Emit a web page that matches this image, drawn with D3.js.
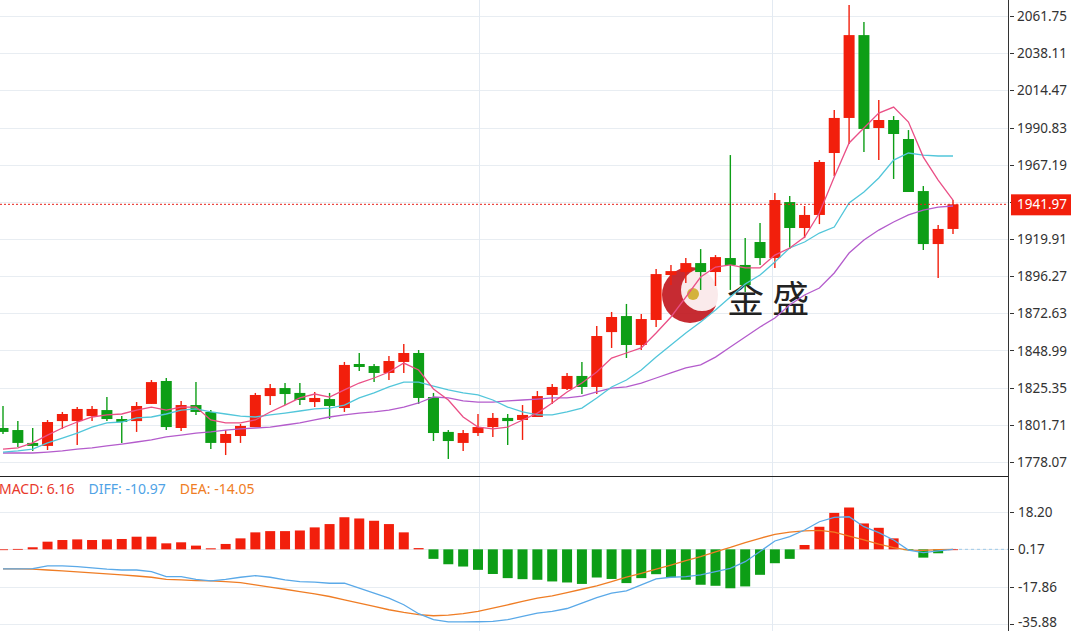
<!DOCTYPE html>
<html><head><meta charset="utf-8">
<script src="https://cdn.jsdelivr.net/npm/d3@7"></script>
<style>body{margin:0;background:#fff;overflow:hidden}svg{display:block;font-family:"Noto Sans","Open Sans",sans-serif}</style>
</head><body><svg id="c" width="1071" height="631"></svg>
<script>
const opens=[1799.7,1798.4,1790.2,1788.3,1804.1,1804.1,1807.3,1811.1,1805.4,1804.1,1815.0,1829.6,1799.7,1814.3,1809.9,1790.2,1794.6,1800.3,1820.0,1825.1,1822.0,1816.2,1818.1,1812.4,1840.4,1839.1,1834.7,1841.7,1847.4,1819.4,1797.2,1790.2,1796.5,1800.3,1806.1,1804.8,1806.7,1820.7,1824.5,1832.8,1825.8,1860.7,1870.9,1852.5,1868.4,1897.0,1898.9,1904.6,1898.9,1907.8,1903.4,1918.0,1907.8,1943.4,1926.9,1935.2,1974.6,1996.9,2049.6,1990.5,1995.6,1983.5,1950.4,1916.7,1926.3];
const closes=[1797.2,1790.2,1788.3,1803.5,1808.6,1811.8,1811.8,1805.4,1803.5,1813.7,1828.9,1800.3,1814.3,1809.9,1790.2,1795.9,1801.0,1820.7,1825.1,1821.3,1817.5,1818.8,1813.7,1839.8,1838.5,1834.7,1842.3,1847.4,1818.8,1796.5,1791.4,1796.5,1800.3,1806.1,1804.1,1808.0,1820.0,1825.8,1832.8,1825.8,1858.2,1870.3,1852.5,1869.0,1897.6,1899.5,1904.6,1898.9,1908.4,1903.4,1890.6,1907.8,1944.7,1926.9,1935.2,1968.9,1996.9,2049.6,1989.9,1995.6,1986.7,1949.8,1916.7,1926.3,1941.97];
const highs=[1813.7,1804.1,1799.7,1804.8,1809.9,1813.0,1813.7,1819.4,1807.3,1816.2,1830.2,1831.5,1816.9,1828.9,1811.1,1798.4,1802.2,1822.0,1827.7,1828.3,1828.3,1822.6,1822.0,1841.7,1847.4,1840.4,1845.5,1853.1,1849.3,1822.0,1798.4,1798.4,1808.6,1809.2,1808.6,1814.3,1823.2,1827.7,1834.7,1841.7,1864.6,1873.5,1878.6,1872.2,1900.8,1903.4,1907.8,1913.5,1909.7,1973.3,1920.5,1930.1,1949.2,1947.2,1940.9,1970.1,2001.9,2068.7,2057.9,2008.3,1998.1,1989.2,1953.6,1928.8,1944.7];
const lows=[1795.9,1787.6,1785.1,1785.7,1799.1,1788.9,1804.1,1804.1,1790.2,1797.2,1815.0,1798.4,1797.8,1808.0,1786.3,1782.5,1790.2,1800.3,1814.3,1814.3,1814.3,1813.0,1805.4,1809.9,1835.9,1828.9,1830.2,1834.7,1815.0,1791.4,1780.0,1785.1,1794.6,1794.0,1788.9,1792.1,1806.7,1815.0,1823.9,1821.3,1821.3,1850.6,1844.2,1849.3,1863.9,1890.6,1891.9,1887.5,1890.0,1887.5,1886.2,1903.4,1901.5,1913.5,1920.5,1929.4,1960.0,1980.3,1975.2,1970.1,1958.1,1949.8,1912.9,1895.1,1923.1];
const ma5=[1786.3,1787.0,1790.2,1795.2,1799.7,1803.5,1806.7,1808.0,1808.6,1811.1,1813.0,1811.1,1813.0,1813.0,1804.8,1802.9,1802.9,1804.8,1809.9,1814.3,1818.8,1821.3,1819.4,1823.9,1828.3,1831.5,1835.3,1841.0,1836.6,1824.5,1817.5,1806.7,1800.3,1799.1,1800.3,1804.8,1809.2,1815.6,1822.6,1828.3,1835.3,1844.2,1847.4,1850.6,1860.1,1870.3,1883.0,1895.7,1902.1,1903.4,1901.5,1901.5,1909.7,1914.2,1921.2,1936.4,1959.3,1981.0,1990.5,2000.0,2003.8,1994.3,1972.0,1957.4,1944.7];
const ma10=[1784.4,1785.1,1786.3,1790.2,1793.3,1796.5,1800.3,1802.9,1803.5,1806.1,1806.7,1808.6,1811.1,1811.8,1809.9,1808.6,1807.3,1806.7,1808.0,1809.2,1810.5,1811.8,1812.4,1814.3,1818.8,1822.0,1825.8,1828.9,1828.9,1826.4,1823.9,1822.0,1820.7,1817.5,1813.0,1809.9,1808.0,1808.0,1809.9,1812.4,1818.8,1825.8,1830.2,1836.6,1844.8,1852.5,1860.1,1867.1,1874.7,1883.0,1891.3,1897.0,1905.3,1914.2,1918.0,1923.7,1927.5,1942.8,1949.8,1958.7,1970.1,1974.6,1973.3,1972.7,1972.7];
const ma20=[1783.8,1783.8,1783.8,1784.4,1785.1,1786.3,1787.0,1788.3,1789.5,1790.8,1792.1,1794.0,1795.2,1796.5,1797.2,1798.4,1799.1,1799.7,1800.3,1801.6,1802.9,1804.8,1806.7,1808.0,1809.2,1809.9,1811.1,1813.0,1815.6,1819.4,1818.8,1816.9,1816.2,1816.2,1816.9,1817.5,1818.1,1818.8,1818.8,1820.0,1822.6,1825.1,1825.8,1828.3,1831.5,1834.7,1837.9,1839.8,1844.8,1851.2,1857.6,1863.9,1869.7,1877.9,1884.3,1888.7,1898.3,1911.0,1919.3,1925.6,1930.7,1935.2,1938.3,1940.2,1940.9];
const macdHist=[0,0.2,1.0,3.7,4.5,4.8,4.5,4.8,5.0,6.1,6.1,2.9,3.4,1.8,0.5,2.6,5.3,8.2,8.8,8.8,9.1,10.6,12.2,15.5,14.9,13.8,12.2,8.2,0.6,-4.6,-7.2,-8.3,-9.9,-11.9,-13.9,-14.4,-14.7,-15.5,-16.0,-16.7,-13.6,-14.3,-16.3,-13.9,-12.0,-13.5,-14.7,-17.1,-17.6,-18.8,-17.9,-12.3,-6.7,-4.6,2.1,10.9,17.6,20.2,12.5,10.4,5.3,-0.3,-4.0,-1.9,0];
const diff=[-9.3,-9.3,-9.1,-7.8,-7.8,-8.2,-8.8,-9.4,-9.8,-9.8,-10.6,-13.0,-13.0,-14.3,-15.1,-14.3,-13.3,-12.5,-13.3,-14.6,-15.4,-15.7,-16.2,-16.2,-18.6,-21.0,-23.4,-26.6,-30.9,-33.8,-34.9,-34.9,-34.8,-34.6,-33.8,-32.2,-30.6,-29.8,-28.4,-25.8,-23.1,-21.0,-19.9,-17.0,-14.1,-13.3,-13.0,-12.2,-10.6,-9.0,-5.8,-0.9,4.2,6.3,9.5,13.5,15.6,15.9,11.1,8.2,4.7,-0.2,-1.4,-0.6,0.17];
const dea=[-9.3,-9.3,-9.4,-9.8,-10.2,-10.7,-11.2,-11.7,-12.2,-12.7,-13.3,-14.3,-14.6,-14.9,-15.1,-15.4,-15.9,-17.0,-18.1,-19.1,-20.2,-21.3,-22.6,-24.2,-25.8,-27.4,-29.0,-30.3,-31.4,-31.9,-31.6,-30.9,-29.8,-28.2,-26.6,-25.0,-23.4,-22.3,-20.7,-19.1,-17.5,-15.4,-13.3,-11.4,-9.4,-7.4,-5.3,-3.4,-1.0,1.1,3.4,5.5,7.4,8.5,9.1,9.3,8.5,6.6,4.7,2.7,1.0,-0.2,-0.3,0.0,0.17];
const priceTicks=[2061.75,2038.11,2014.47,1990.83,1967.19,1943.55,1919.91,1896.27,1872.63,1848.99,1825.35,1801.71,1778.07];
const hiddenTick=1943.55;
const macdTicks=[18.20,0.17,-17.86,-35.88];
const lastPrice=1941.97;
const legend=[["MACD: 6.16","#e8392c"],["DIFF: -10.97","#4fa3e6"],["DEA: -14.05","#ef7d25"]];

const RED="#f21f0c",GREEN="#0d9e16";
const svg=d3.select("#c");
const x=d3.scaleLinear().domain([0,64]).range([3,953]);
const y=d3.scaleLinear().domain([1778.07,2061.75]).range([462,16]);
const xm=x;
const ym=d3.scaleLinear().domain([-35.88,18.20]).range([624,512]);
const AX=1008;

svg.append("g").selectAll("line").data(priceTicks).join("line")
 .attr("x1",0).attr("x2",AX).attr("y1",d=>Math.round(y(d))+.5).attr("y2",d=>Math.round(y(d))+.5).attr("stroke","#e8edf2");
svg.append("g").selectAll("line").data(macdTicks).join("line")
 .attr("x1",0).attr("x2",AX).attr("y1",d=>Math.round(ym(d))+.5).attr("y2",d=>Math.round(ym(d))+.5).attr("stroke","#e8edf2");
[[479,0,476],[772,0,476],[479,477,631],[772,477,631]].forEach(v=>svg.append("line").attr("x1",v[0]+.5).attr("x2",v[0]+.5).attr("y1",v[1]).attr("y2",v[2]).attr("stroke","#e3eaf2"));

const wm=svg.append("g");
wm.append("circle").attr("cx",690).attr("cy",295).attr("r",28).attr("fill","#c0141c").attr("opacity",.9);
wm.append("circle").attr("cx",702).attr("cy",290).attr("r",21).attr("fill","#fff").attr("opacity",.9);
wm.append("circle").attr("cx",693).attr("cy",294).attr("r",6).attr("fill","#d4b23c");
wm.append("text").attr("x",727).attr("y",313).attr("font-size",37).attr("fill","#222").attr("font-family","Noto Sans CJK SC").text("金 盛");

const idx=d3.range(opens.length);
const cg=svg.append("g");
cg.selectAll("line").data(idx).join("line")
 .attr("x1",i=>x(i)).attr("x2",i=>x(i)).attr("y1",i=>y(highs[i])).attr("y2",i=>y(lows[i]))
 .attr("stroke",i=>closes[i]>=opens[i]?RED:GREEN).attr("stroke-width",1.4);
cg.selectAll("rect").data(idx).join("rect")
 .attr("x",i=>x(i)-5.5).attr("width",11)
 .attr("y",i=>y(Math.max(opens[i],closes[i])))
 .attr("height",i=>Math.max(1.5,Math.abs(y(opens[i])-y(closes[i]))))
 .attr("fill",i=>closes[i]>=opens[i]?RED:GREEN);

const ln=(xs,ys)=>d3.line().x((d,i)=>xs(i)).y(d=>ys(d));
[[ma20,"#b45ccc"],[ma10,"#52c6da"],[ma5,"#ea4f86"]].forEach(([a,c])=>svg.append("path").attr("d",ln(x,y)(a)).attr("fill","none").attr("stroke",c).attr("stroke-width",1.3));

svg.append("line").attr("x1",0).attr("x2",AX).attr("y1",y(lastPrice)).attr("y2",y(lastPrice)).attr("stroke","#e8201a").attr("stroke-dasharray","2,2");

svg.append("line").attr("x1",0).attr("x2",AX).attr("y1",476.5).attr("y2",476.5).attr("stroke","#222");
svg.append("line").attr("x1",AX+.5).attr("x2",AX+.5).attr("y1",0).attr("y2",631).attr("stroke","#333");

const pa=svg.append("g");
pa.selectAll("line").data(priceTicks).join("line").attr("x1",AX+2).attr("x2",AX+6).attr("y1",d=>Math.round(y(d))+.5).attr("y2",d=>Math.round(y(d))+.5).attr("stroke","#333");
pa.selectAll("text").data(priceTicks.filter(d=>d!==hiddenTick)).join("text").attr("x",AX+9).attr("y",d=>y(d)+5).attr("font-size",13.5).attr("fill","#333").text(d=>d.toFixed(2));
svg.append("rect").attr("x",AX+3).attr("y",y(lastPrice)-10).attr("width",60).attr("height",21).attr("fill","#f21f0c");
svg.append("text").attr("x",AX+9).attr("y",y(lastPrice)+5).attr("font-size",13.5).attr("fill","#fff").text(lastPrice.toFixed(2));

svg.append("line").attr("x1",xm(64)).attr("x2",AX).attr("y1",ym(0.17)).attr("y2",ym(0.17)).attr("stroke","#9fcbe8").attr("stroke-dasharray","3,3");
svg.append("g").selectAll("rect").data(macdHist).join("rect")
 .attr("x",(d,i)=>xm(i)-5).attr("width",10)
 .attr("y",d=>d>=0?ym(d+0.17):ym(0.17)).attr("height",d=>Math.max(0.8,Math.abs(ym(d+0.17)-ym(0.17))))
 .attr("fill",d=>d>=0?RED:GREEN);
svg.append("path").attr("d",ln(xm,ym)(dea)).attr("fill","none").attr("stroke","#ef7d25").attr("stroke-width",1.3);
svg.append("path").attr("d",ln(xm,ym)(diff)).attr("fill","none").attr("stroke","#5aa9e8").attr("stroke-width",1.3);
const ma=svg.append("g");
ma.selectAll("line").data(macdTicks).join("line").attr("x1",AX+2).attr("x2",AX+6).attr("y1",d=>Math.round(ym(d))+.5).attr("y2",d=>Math.round(ym(d))+.5).attr("stroke","#333");
ma.selectAll("text").data(macdTicks).join("text").attr("x",AX+10).attr("y",d=>Math.min(ym(d)+5,627)).attr("font-size",13.5).attr("fill","#333").text(d=>d.toFixed(2));
let lx=-1;
legend.forEach(([t,c])=>{const tx=svg.append("text").attr("x",lx).attr("y",494).attr("font-size",14).attr("fill",c).text(t);lx+=tx.node().getComputedTextLength()+14;});
</script></body></html>
